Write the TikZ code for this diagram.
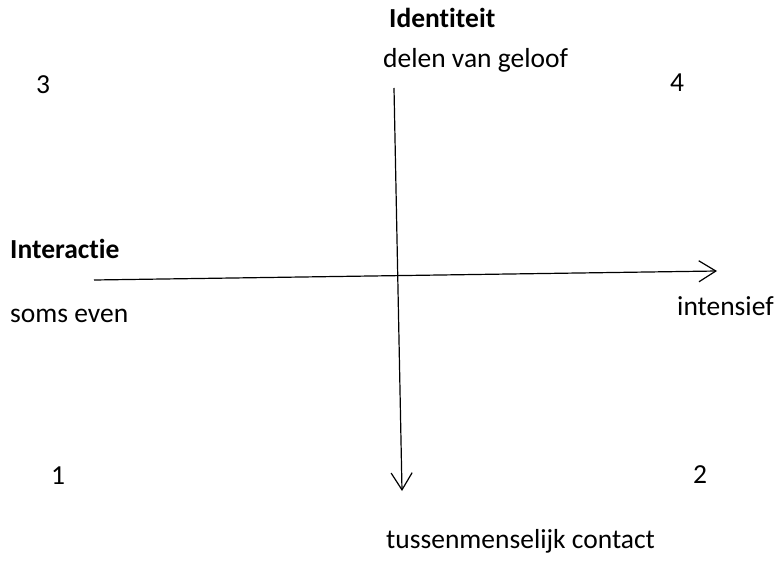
\documentclass[tikz,border=0pt]{standalone}
\usepackage{fontspec}
\setmainfont[Ligatures=NoCommon]{Carlito}
\usetikzlibrary{arrows.meta}
\tikzset{
  lbl/.style={inner sep=0pt, anchor=base west, font=\fontsize{27.5}{32}\selectfont},
  blbl/.style={lbl, font=\fontsize{27.5}{32}\selectfont\bfseries},
  axis/.style={line width=1.2pt, -{Straight Barb[length=17pt,width=21pt,line width=1.2pt]}}
}
\begin{document}
\begin{tikzpicture}[x=1pt,y=-1pt]
\useasboundingbox (0,0) rectangle (782,575);
\node[blbl] (ident) at (389,28) {Identiteit};
\node[lbl] (geloof) at (383,68) {delen van geloof};
\node[lbl] (n3) at (36,94) {3};
\node[lbl] (n4) at (670,92) {4};
\node[blbl] (inter) at (10,258) {Interactie};
\node[lbl] (soms) at (10,322) {soms even};
\node[lbl] (intens) at (677,315) {intensief};
\node[lbl] (n1) at (51,484) {1};
\node[lbl] (n2) at (693,483) {2};
\node[lbl] (contact) at (386,548) {tussenmenselijk contact};
\coordinate (vtop) at (394,88);
\coordinate (vbot) at (402,491);
\coordinate (hleft) at (94,280);
\coordinate (hright) at (717,271);
\draw[axis] (vtop) -- (vbot);
\draw[axis] (hleft) -- (hright);
\end{tikzpicture}
\end{document}
